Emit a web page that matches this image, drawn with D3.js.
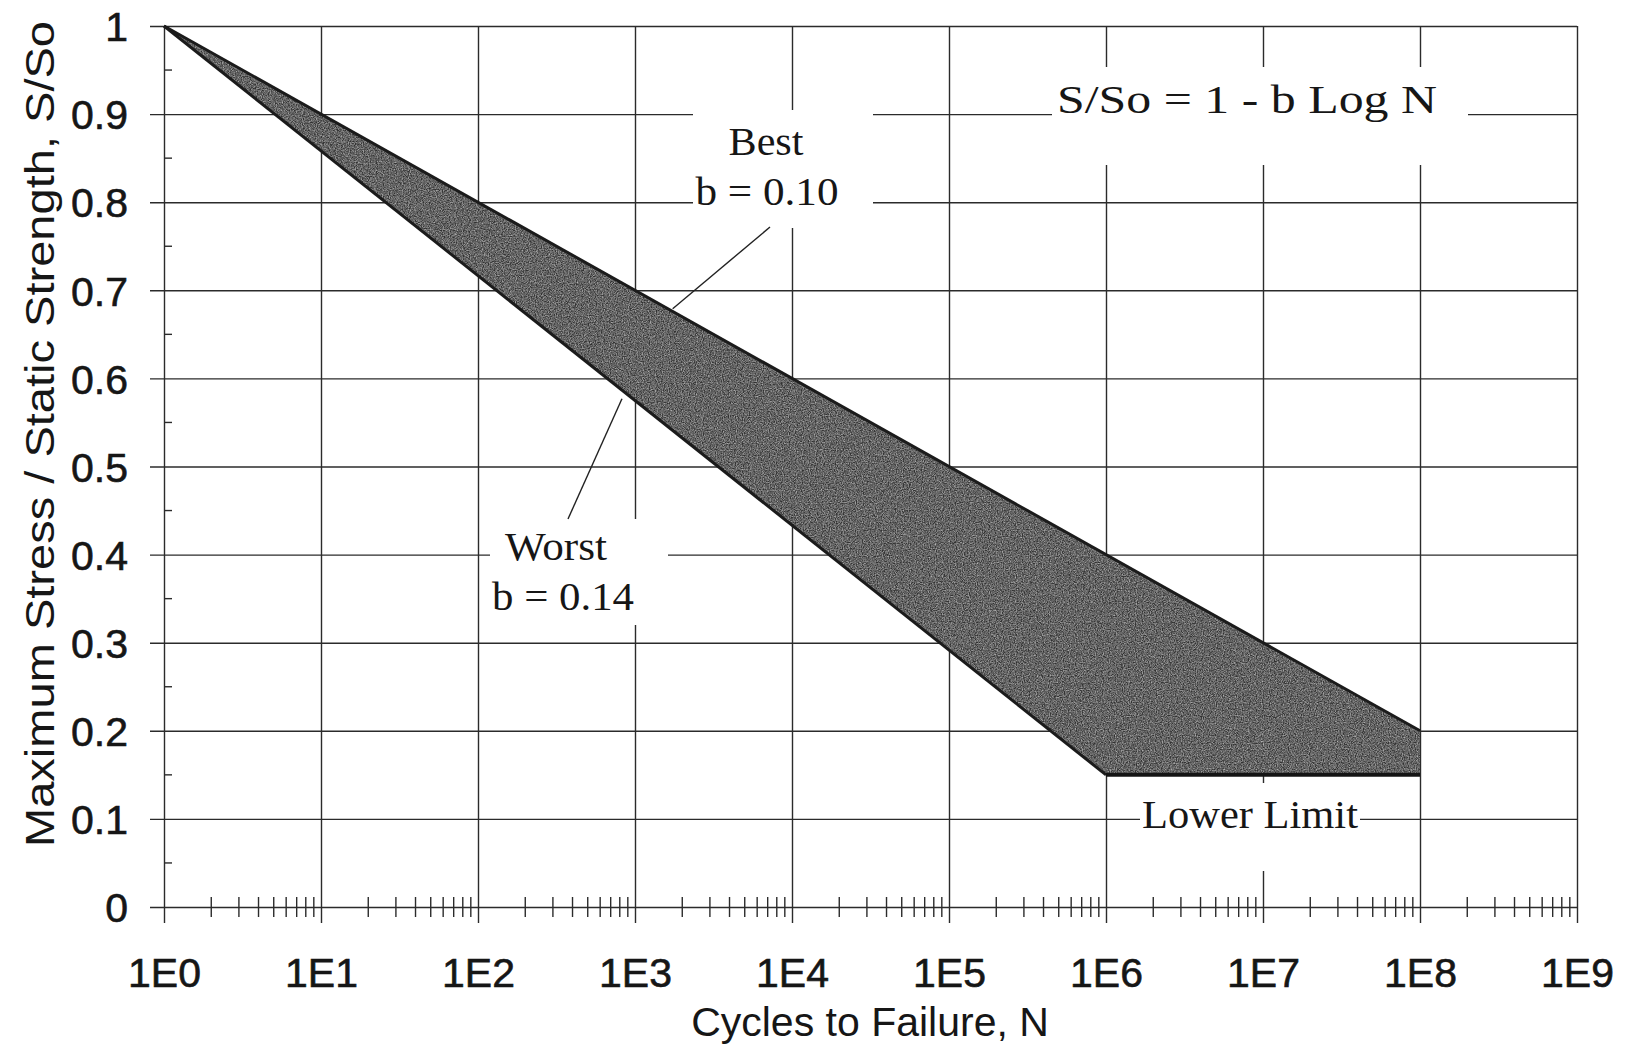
<!DOCTYPE html>
<html>
<head>
<meta charset="utf-8">
<script src="https://cdn.jsdelivr.net/npm/d3@7"></script>
<style>
  body { margin: 0; background: #fff; }
  svg { display: block; }
</style>
</head>
<body>
<svg width="1629" height="1046"></svg>
<script>
var svg = d3.select('svg');

// data: N (cycles), S/So
var bestLine = [[1, 1], [1e8, 0.2]];          // b = 0.10
var worstLine = [[1, 1], [1e6, 0.15]];        // b = 0.14
var lowerLimit = [[1e6, 0.15], [1e8, 0.15]];
var xDecades = [1, 1e1, 1e2, 1e3, 1e4, 1e5, 1e6, 1e7, 1e8, 1e9];
var xTickLabels = ['1E0', '1E1', '1E2', '1E3', '1E4', '1E5', '1E6', '1E7', '1E8', '1E9'];
var yTicks = [0, 0.1, 0.2, 0.3, 0.4, 0.5, 0.6, 0.7, 0.8, 0.9, 1];
var yTickLabels = ['0', '0.1', '0.2', '0.3', '0.4', '0.5', '0.6', '0.7', '0.8', '0.9', '1'];
var yMinor = [0.05, 0.15, 0.25, 0.35, 0.45, 0.55, 0.65, 0.75, 0.85, 0.95];
var minorMultipliers = [2, 3, 4, 5, 6, 7, 8, 9];

var formula = 'S/So = 1 - b Log N';
var bestText = ['Best', 'b = 0.10'];
var worstText = ['Worst', 'b = 0.14'];
var limitText = 'Lower Limit';
var xTitle = 'Cycles to Failure, N';
var yTitle = 'Maximum Stress / Static Strength, S/So';

// plot frame (don't call these top/left: window.top is taken)
var pl = 164, pr = 1577, pt = 26, pb = 907;
var x = d3.scaleLog().domain([1, 1e9]).range([pl, pr]);
var y = d3.scaleLinear().domain([0, 1]).range([pb, pt]);

var sans = 'Liberation Sans, Arial, sans-serif';
var serif = 'Liberation Serif, Times New Roman, serif';
var gridColor = '#2b2b2b';
var ink = '#161616';

// speckled texture for the band
var defs = svg.append('defs');
var f = defs.append('filter').attr('id', 'grain')
  .attr('x', 0).attr('y', 0).attr('width', 1).attr('height', 1)
  .attr('color-interpolation-filters', 'sRGB');
f.append('feTurbulence').attr('type', 'fractalNoise').attr('baseFrequency', 0.85)
  .attr('numOctaves', 2).attr('seed', 4).attr('result', 'noise');
f.append('feColorMatrix').attr('in', 'noise').attr('type', 'matrix')
  .attr('values', '1.6 0 0 0 -0.4  1.6 0 0 0 -0.4  1.6 0 0 0 -0.4  0 0 0 0 0.5')
  .attr('result', 'gray');
f.append('feComposite').attr('in', 'gray').attr('in2', 'SourceGraphic').attr('operator', 'in').attr('result', 'speck');
var m = f.append('feMerge');
m.append('feMergeNode').attr('in', 'SourceGraphic');
m.append('feMergeNode').attr('in', 'speck');

// x axis: decade gridlines + labels
var xAxis = d3.axisBottom(x).tickValues(xDecades)
  .tickFormat(function(d, i) { return xTickLabels[i] })
  .tickSize(-(pb - pt));
var gx = svg.append('g').attr('transform', 'translate(0,' + pb + ')').call(xAxis);
gx.select('.domain').remove();
gx.selectAll('.tick line').attr('y1', 16).attr('y2', -(pb - pt))
  .attr('stroke', gridColor).attr('stroke-width', 1.4);
gx.selectAll('.tick text').attr('y', 80).attr('dy', null)
  .attr('font-family', sans).attr('font-size', 41).attr('fill', ink)
  .attr('stroke', ink).attr('stroke-width', 0.6);

// y axis: gridlines + labels
var yAxis = d3.axisLeft(y).tickValues(yTicks)
  .tickFormat(function(d, i) { return yTickLabels[i] })
  .tickSize(-(pr - pl));
var gy = svg.append('g').attr('transform', 'translate(' + pl + ',0)').call(yAxis);
gy.select('.domain').remove();
gy.selectAll('.tick line').attr('x1', -14).attr('x2', pr - pl)
  .attr('stroke', gridColor).attr('stroke-width', 1.4);
gy.selectAll('.tick text').attr('x', -36).attr('dy', '0.36em')
  .attr('font-family', sans).attr('font-size', 41).attr('fill', ink)
  .attr('stroke', ink).attr('stroke-width', 0.6);

// minor ticks
svg.append('g').selectAll('line').data(yMinor).enter().append('line')
  .attr('x1', pl).attr('x2', pl + 8)
  .attr('y1', function(d) { return y(d) }).attr('y2', function(d) { return y(d) })
  .attr('stroke', gridColor).attr('stroke-width', 1.4);

var xMinor = [];
xDecades.slice(0, -1).forEach(function(d) {
  minorMultipliers.forEach(function(k) { xMinor.push(d * k) })
});
svg.append('g').selectAll('line').data(xMinor).enter().append('line')
  .attr('x1', function(d) { return x(d) }).attr('x2', function(d) { return x(d) })
  .attr('y1', pb - 10).attr('y2', pb + 10)
  .attr('stroke', gridColor).attr('stroke-width', 1.4);

// white boxes behind the annotations (they cut the grid)
function box(x0, y0, x1, y1) {
  svg.append('rect').attr('x', x0).attr('y', y0).attr('width', x1 - x0).attr('height', y1 - y0)
    .attr('fill', '#fff');
}
box(1052, 67, 1468, 165);
box(693, 110, 873, 228);
box(490, 519, 668, 625);
box(1140, 783, 1360, 871);

// the band
var line = d3.line().x(function(d) { return x(d[0]) }).y(function(d) { return y(d[1]) });
var band = bestLine.concat([lowerLimit[1]], [lowerLimit[0]], worstLine.slice().reverse());
svg.append('path').attr('d', line(band) + 'Z')
  .attr('fill', '#626262').attr('filter', 'url(#grain)');

svg.append('path').attr('d', line(bestLine)).attr('fill', 'none')
  .attr('stroke', '#1b1b1b').attr('stroke-width', 3);
svg.append('path').attr('d', line(worstLine)).attr('fill', 'none')
  .attr('stroke', '#1b1b1b').attr('stroke-width', 3);
svg.append('path').attr('d', line(lowerLimit)).attr('fill', 'none')
  .attr('stroke', '#141414').attr('stroke-width', 4);

// leader lines
svg.append('line').attr('x1', 770).attr('y1', 227)
  .attr('x2', x(Math.pow(10, 3.24))).attr('y2', y(0.679))
  .attr('stroke', '#222').attr('stroke-width', 1.4);
svg.append('line').attr('x1', 568).attr('y1', 519)
  .attr('x2', x(Math.pow(10, 2.917))).attr('y2', y(0.577))
  .attr('stroke', '#222').attr('stroke-width', 1.4);

// annotation text
function label(t, cx, base, len) {
  svg.append('text').attr('x', cx).attr('y', base)
    .attr('text-anchor', 'middle')
    .attr('font-family', serif).attr('font-size', 41).attr('fill', ink)
    .attr('textLength', len).attr('lengthAdjust', 'spacingAndGlyphs')
    .text(t);
}
label(formula, 1247, 113, 380);
label(bestText[0], 766, 155, 75);
label(bestText[1], 767, 205, 143);
label(worstText[0], 556, 560, 102);
label(worstText[1], 563, 610, 142);
label(limitText, 1250, 828, 216);

// axis titles
svg.append('text').attr('x', 870).attr('y', 1036).attr('text-anchor', 'middle')
  .attr('font-family', sans).attr('font-size', 41).attr('fill', ink)
  .text(xTitle);
svg.append('text').attr('transform', 'translate(54,434) rotate(-90)')
  .attr('text-anchor', 'middle')
  .attr('font-family', sans).attr('font-size', 41).attr('fill', ink)
  .attr('textLength', 826).attr('lengthAdjust', 'spacingAndGlyphs')
  .text(yTitle);
</script>
</body>
</html>
